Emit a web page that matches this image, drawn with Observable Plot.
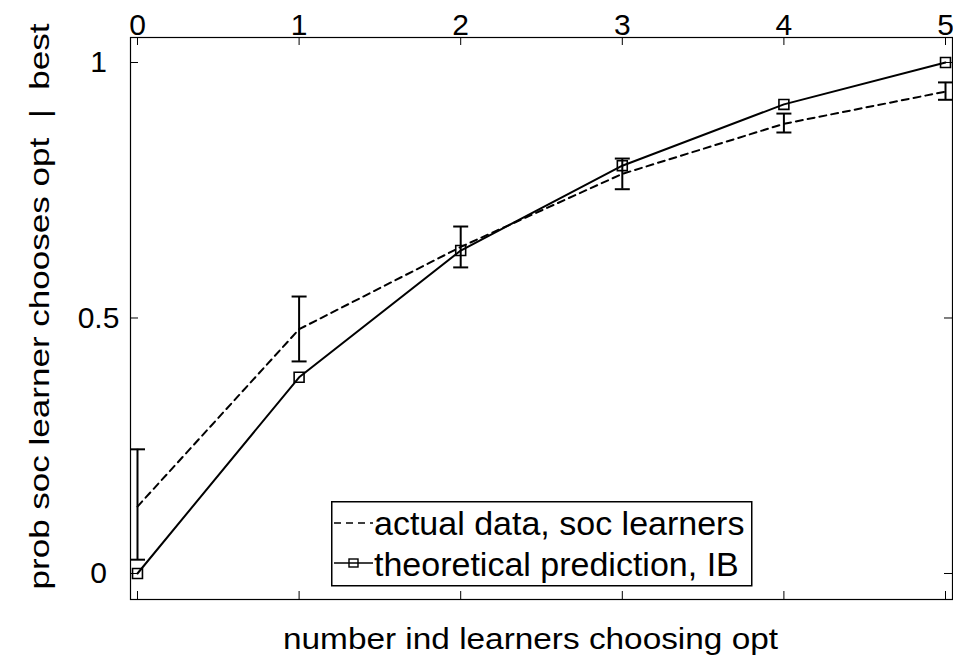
<!DOCTYPE html>
<html><head><meta charset="utf-8">
<script src="https://cdn.jsdelivr.net/npm/d3@7"></script>
<script src="https://cdn.jsdelivr.net/npm/@observablehq/plot@0.6"></script>
<style>
body{margin:0;background:#fff;}
#wrap{position:relative;width:953px;height:660px;font-family:"Liberation Sans",Arial,sans-serif;}
#legend{position:absolute;left:331px;top:501px;}
</style></head><body><div id="wrap"></div>
<script>
// ---- data ----
const xs = [0, 1, 2, 3, 4, 5];
const actual   = [0.131, 0.478, 0.639, 0.782, 0.880, 0.943];
const actualLo = [0.027, 0.415, 0.599, 0.752, 0.863, 0.927];
const actualHi = [0.243, 0.542, 0.679, 0.812, 0.900, 0.961];
const theory   = [0.000, 0.384, 0.632, 0.798, 0.918, 1.000];
const xTicks = [0, 1, 2, 3, 4, 5];
const xTickLabels = ["0", "1", "2", "3", "4", "5"];
const yTicks = [0, 0.5, 1];
const yTickLabels = ["0", "0.5", "1"];
const seriesNames = ["actual data, soc learners", "theoretical prediction, IB"];
const xLabel = "number ind learners choosing opt";
const yLabel = "prob soc learner chooses opt  |  best";

const rows = xs.map((x, i) => ({x, actual: actual[i], lo: actualLo[i], hi: actualHi[i], theory: theory[i]}));

const W = 953, H = 660, mt = 37, mb = 61, ml = 130, mr = 1;
const plotH = H - mt - mb, plotW = W - ml - mr;
const tick = 8;
const cap = {draw(ctx, size) { const h = Math.sqrt(size / Math.PI); ctx.moveTo(-h, 0); ctx.lineTo(h, 0); }};

const chart = Plot.plot({
  width: W, height: H,
  marginTop: mt, marginBottom: mb, marginLeft: ml, marginRight: mr,
  style: {fontFamily: "'Liberation Sans', Arial, sans-serif", background: "#fff", color: "#000", overflow: "visible"},
  x: {domain: [-0.0433, 5.0433]},
  y: {domain: [-0.0509, 1.0489]},
  marks: [
    Plot.ruleX(xTicks, {x: d => d, insetBottom: plotH - tick, stroke: "#000", strokeWidth: 1}),
    Plot.ruleX(xTicks, {x: d => d, insetTop: plotH - tick, stroke: "#000", strokeWidth: 1}),
    Plot.ruleY(yTicks, {y: d => d, insetRight: plotW - tick, stroke: "#000", strokeWidth: 1}),
    Plot.ruleY(yTicks, {y: d => d, insetLeft: plotW - tick, stroke: "#000", strokeWidth: 1}),
    Plot.axisX({anchor: "top", ticks: xTicks, tickSize: 0, tickPadding: 3, fontSize: 30, label: null,
      tickFormat: d => xTickLabels[xTicks.indexOf(d)]}),
    Plot.axisY({anchor: "left", ticks: yTicks, tickSize: 0, tickPadding: 32, textAnchor: "middle", fontSize: 30, label: null,
      tickFormat: d => yTickLabels[yTicks.indexOf(d)]}),
    Plot.text([xLabel], {frameAnchor: "bottom", textAnchor: "middle", lineAnchor: "middle", dx: -11, dy: 40, fontSize: 29}),
    Plot.text([yLabel], {frameAnchor: "left", textAnchor: "middle", lineAnchor: "middle", rotate: -90, dx: -90, dy: -12, fontSize: 28}),
    Plot.line(rows, {x: "x", y: "actual", stroke: "#000", strokeWidth: 2, strokeDasharray: "7,5"}),
    Plot.ruleX(rows, {x: "x", y1: "lo", y2: "hi", stroke: "#000", strokeWidth: 2}),
    Plot.dot(rows, {x: "x", y: "lo", symbol: cap, r: 7.5, stroke: "#000", strokeWidth: 2}),
    Plot.dot(rows, {x: "x", y: "hi", symbol: cap, r: 7.5, stroke: "#000", strokeWidth: 2}),
    Plot.line(rows, {x: "x", y: "theory", stroke: "#000", strokeWidth: 2}),
    Plot.dot(rows, {x: "x", y: "theory", symbol: "square", r: 5.6, stroke: "#000", strokeWidth: 1.6, fill: "none"}),
    Plot.frame({stroke: "#000", strokeWidth: 1.2})
  ]
});

const tickLabelSet = new Set([...xTickLabels, ...yTickLabels]);
d3.select(chart).selectAll("text").each(function() {
  const sel = d3.select(this);
  const t = sel.text();
  if (t === xLabel) sel.attr("textLength", 495).attr("lengthAdjust", "spacingAndGlyphs");
  if (t === yLabel) sel.attr("textLength", 566).attr("lengthAdjust", "spacingAndGlyphs");
  if (tickLabelSet.has(t)) sel.style("font-size", "30px");
});

const wrap = document.getElementById("wrap");
wrap.appendChild(chart);

// legend
const lg = d3.create("svg").attr("id", "legend").attr("width", 423).attr("height", 87)
  .style("font-family", "'Liberation Sans', Arial, sans-serif");
lg.append("rect").attr("x", 0.75).attr("y", 0.75).attr("width", 420).attr("height", 84)
  .attr("fill", "#fff").attr("stroke", "#000").attr("stroke-width", 1.5);
lg.append("line").attr("x1", 3).attr("x2", 42).attr("y1", 22).attr("y2", 22)
  .attr("stroke", "#000").attr("stroke-width", 1.6).attr("stroke-dasharray", "7,5");
lg.append("line").attr("x1", 3).attr("x2", 42).attr("y1", 62).attr("y2", 62)
  .attr("stroke", "#000").attr("stroke-width", 1.6);
lg.append("rect").attr("x", 18).attr("y", 58).attr("width", 9).attr("height", 8)
  .attr("fill", "none").attr("stroke", "#000").attr("stroke-width", 1.4);
seriesNames.forEach((s, i) => {
  lg.append("text").attr("x", 43).attr("y", i === 0 ? 34 : 75).attr("font-size", 34).attr("fill", "#000").text(s);
});
wrap.appendChild(lg.node());
</script></body></html>
